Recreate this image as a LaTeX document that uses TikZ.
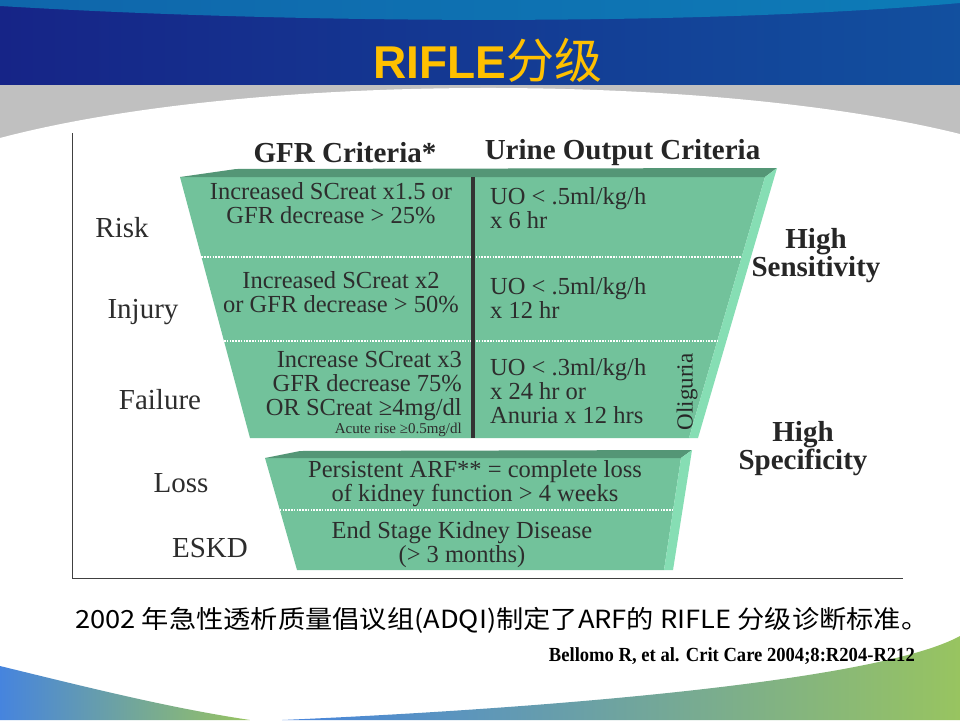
\documentclass[tikz,border=0pt]{standalone}
\usepackage{fontspec}
\setmainfont{Liberation Serif}
\newfontfamily\headfont{Liberation Sans}
\newfontfamily\cjk{Noto Sans CJK SC}
\usetikzlibrary{positioning,calc}
\definecolor{bandblue}{RGB}{22,36,135}
\definecolor{banddark}{RGB}{12,22,92}
\definecolor{skyblue}{RGB}{150,205,245}
\definecolor{slidegray}{RGB}{192,192,192}
\definecolor{titleyellow}{RGB}{255,192,0}
\definecolor{rifle}{RGB}{114,194,155}
\definecolor{rifletop}{RGB}{84,150,118}
\definecolor{rifleside}{RGB}{134,222,180}
\definecolor{inktext}{RGB}{45,45,45}
\definecolor{lowblue}{RGB}{70,132,222}
\definecolor{lowgreen}{RGB}{152,196,96}
\newcommand\fsz[2]{\fontsize{#1}{#2}\selectfont}

\begin{document}
\begin{tikzpicture}[x=1pt,y=-1pt,
  stage/.style={font=\fsz{29}{29},text=inktext},
  crit/.style={font=\fsz{24.5}{24}\selectfont,text=inktext,align=center,inner sep=0pt},
  uo/.style={crit,align=left,anchor=west},
  head/.style={font=\bfseries\fsz{29}{29},text=black!85,inner sep=0pt},
  side/.style={font=\bfseries\fsz{29}{28},text=black!85,align=center},
  rowline/.style={white,line width=1.6pt,dash pattern=on 1.6pt off 1.2pt}]
\useasboundingbox (0,0) rectangle (960,720);
% slide background
\fill[white] (0,0) rectangle (960,720);
\shade[left color=bandblue,middle color=banddark,right color=bandblue!80!cyan] (0,0) rectangle (960,85);
\shade[left color=bandblue!70!cyan,middle color=skyblue,right color=bandblue!60!cyan]
  (0,0) -- (960,0) -- (960,3) .. controls (700,26) and (300,24) .. (0,6) -- cycle;
\fill[slidegray] (0,85) rectangle (960,140);
\fill[white] (0,138) .. controls (250,72) and (710,72) .. (960,134) -- (960,720) -- (0,720) -- cycle;
\shade[left color=lowblue,right color=lowgreen] (0,666) .. controls (90,688) and (170,708) .. (250,720) -- (0,720) -- cycle;
\shade[left color=lowblue,right color=lowgreen] (282,720) .. controls (560,708) and (880,680) .. (960,636) -- (960,720) -- cycle;
\node[text=titleyellow,font=\headfont\bfseries\fsz{46}{46}] (title) at (488,60) {RIFLE{\cjk\mdseries\fsz{48}{48}分级}};
% panel
\draw[black!75,line width=1pt] (72,133) -- (72,578) -- (903,578);
% upper funnel
\coordinate (ul) at (180,177); \coordinate (ur) at (765,177);
\coordinate (lr) at (689,438); \coordinate (ll) at (250,438);
\coordinate (urb) at (777,168); \coordinate (lrb) at (698,438); \coordinate (ult) at (236,169);
\fill[rifle] (ul) -- (ur) -- (lr) -- (ll) -- cycle;
\fill[rifletop] (ul) -- (ult) -- (urb) -- (ur) -- cycle;
\fill[rifleside] (ur) -- (urb) -- (lrb) -- (lr) -- cycle;
\draw[rowline] ($(ul)!0.3065!(ll)$) -- ($(ur)!0.3065!(lr)$);
\draw[rowline] ($(ul)!0.628!(ll)$) -- ($(ur)!0.628!(lr)$);
\draw[black!80,line width=4pt] (473,177) -- (473,438);
% lower funnel
\coordinate (Ul) at (265,458); \coordinate (Ur) at (681,458);
\coordinate (Lr) at (664,570); \coordinate (Ll) at (297,570);
\coordinate (Urb) at (692,450); \coordinate (Lrb) at (673,570); \coordinate (Ult) at (300,451);
\fill[rifle] (Ul) -- (Ur) -- (Lr) -- (Ll) -- cycle;
\fill[rifletop] (Ul) -- (Ult) -- (Urb) -- (Ur) -- cycle;
\fill[rifleside] (Ur) -- (Urb) -- (Lrb) -- (Lr) -- cycle;
\draw[rowline] ($(Ul)!0.464!(Ll)$) -- ($(Ur)!0.464!(Lr)$);
% headings
\node[head] (gfr) at (345,153) {GFR Criteria*};
\node[head,right=48pt of gfr] (uohead) {Urine Output Criteria};
% stages
\foreach \X/\x/\y [count=\i] in {Risk/122/228,Injury/143/312,Failure/160/400,Loss/181/483,ESKD/210/548}
  \node[stage] (S-\i) at (\x,\y) {\X};
% criteria
\node[crit] (G-1) at (331,203) {Increased SCreat x1.5 or\\GFR decrease > 25\%};
\node[crit] (G-2) at (341,292) {Increased SCreat x2\\or GFR decrease > 50\%};
\node[crit,align=right,anchor=east] (G-3) at (462,386) {Increase SCreat x3\\GFR decrease 75\%\\OR SCreat ≥4mg/dl};
\node[crit,font=\fsz{15}{15},below=2pt of G-3.south east,anchor=north east] (acute) {Acute rise ≥0.5mg/dl};
\node[uo] (U-1) at (490,208) {UO < .5ml/kg/h\\x 6 hr};
\node[uo] (U-2) at (490,298) {UO < .5ml/kg/h\\x 12 hr};
\node[uo] (U-3) at (490,391) {UO < .3ml/kg/h\\x 24 hr or\\Anuria x 12 hrs};
\node[crit,rotate=90,font=\fsz{23}{23},text=black!85] (olig) at (687,392) {Oliguria};
\node[crit] (L-1) at (475,484) {Persistent ARF** = complete loss\\of kidney function > 4 weeks};
\node[crit] (L-2) at (462,545) {End Stage Kidney Disease\\(> 3 months)};
% sides
\node[side] (sens) at (816,256) {High\\Sensitivity};
\node[side] (spec) at (803,449) {High\\Specificity};
% footer
\node[anchor=west,font=\cjk\fsz{25}{25},inner sep=0pt,xscale=1.09] (note) at (75,620) {2002 年急性透析质量倡议组(ADQI)制定了ARF的 RIFLE 分级诊断标准。};
\node[anchor=east,font=\bfseries\fsz{20}{20},inner sep=0pt,xscale=0.93] (cite) at (915,656) {Bellomo R, et al. Crit Care 2004;8:R204-R212};
\end{tikzpicture}
\end{document}
